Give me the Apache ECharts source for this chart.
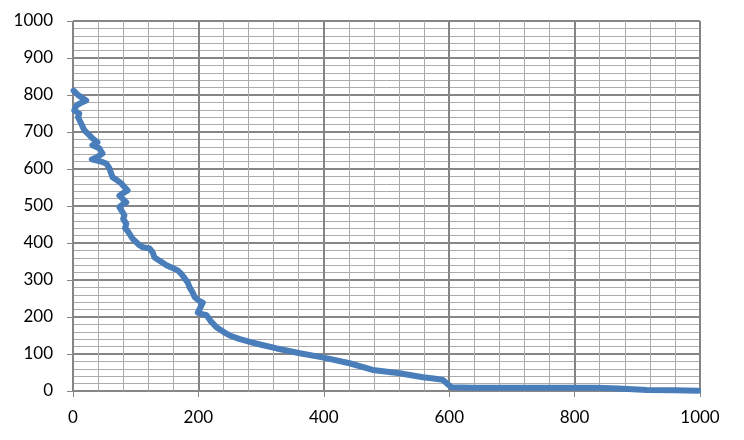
<!DOCTYPE html>
<html>
<head>
<meta charset="utf-8">
<script src="https://cdn.jsdelivr.net/npm/echarts@6/dist/echarts.min.js"></script>
<style>
html,body{margin:0;padding:0;background:#fff;}
#c{width:744px;height:440px;}
</style>
</head>
<body>
<div id="c"></div>
<script>
// traced path of the curve (x, y pairs in drawing order)
const xValues = [1,8,21,12,5,2,10,8,13,18,24,31,39,35,31,42,44,47,38,30,45,53,58,63,70,77,87,80,74,85,78,74,82,80,85,83,87,95,106,111,122,127,130,140,149,158,167,172,178,183,186,191,194,200,207,203,199,206,213,220,229,240,250,265,282,300,325,362,398,441,478,521,558,575,590,596,600,604,640,700,760,836,870,915,960,997];
const yValues = [812,800,785,778,771,758,750,740,723,705,695,683,672,668,664,656,650,642,632,626,620,615,602,578,570,561,542,535,528,510,503,497,475,465,452,440,433,412,394,389,385,375,361,350,340,333,326,318,305,293,280,266,254,245,239,225,212,208,205,188,172,160,150,141,133,125,115,102,91,75,57,48,37,34,30,21,15,10,9,9,9,9,7,3,2,1];
const xTicks = [0,200,400,600,800,1000];
const yTicks = [0,100,200,300,400,500,600,700,800,900,1000];

const points = xValues.map((x,i)=>[x,yValues[i]]);
const chart = echarts.init(document.getElementById('c'));
const font = 'Lato';
chart.setOption({
  animation:false,
  backgroundColor:'#fff',
  grid:{left:73,top:21,width:627,height:370,containLabel:false},
  xAxis:{
    type:'value',min:xTicks[0],max:xTicks[xTicks.length-1],interval:200,
    axisLine:{show:true,onZero:false,lineStyle:{color:'#868686',width:1}},
    axisTick:{show:true,length:6,lineStyle:{color:'#868686'}},
    axisLabel:{color:'#000',fontFamily:font,fontSize:17,margin:18,formatter:v=>String(v)},
    splitLine:{show:true,lineStyle:{color:'#858585',width:2}},
    minorTick:{show:false,splitNumber:5},
    minorSplitLine:{show:true,lineStyle:{color:'#ababab',width:1}}
  },
  yAxis:{
    type:'value',min:yTicks[0],max:yTicks[yTicks.length-1],interval:100,
    axisLine:{show:true,onZero:false,lineStyle:{color:'#868686',width:1}},
    axisTick:{show:true,length:6,lineStyle:{color:'#868686'}},
    axisLabel:{color:'#000',fontFamily:font,fontSize:17,margin:20,formatter:v=>String(v)},
    splitLine:{show:true,lineStyle:{color:'#858585',width:2}},
    minorTick:{show:false,splitNumber:5},
    minorSplitLine:{show:true,lineStyle:{color:'#ababab',width:1}}
  },
  series:[{
    type:'line',data:points,showSymbol:false,symbol:'none',
    lineStyle:{color:'#4a7ebb',width:6,cap:'round',join:'round'},
    itemStyle:{color:'#4a7ebb'}
  }]
});
</script>
</body>
</html>
